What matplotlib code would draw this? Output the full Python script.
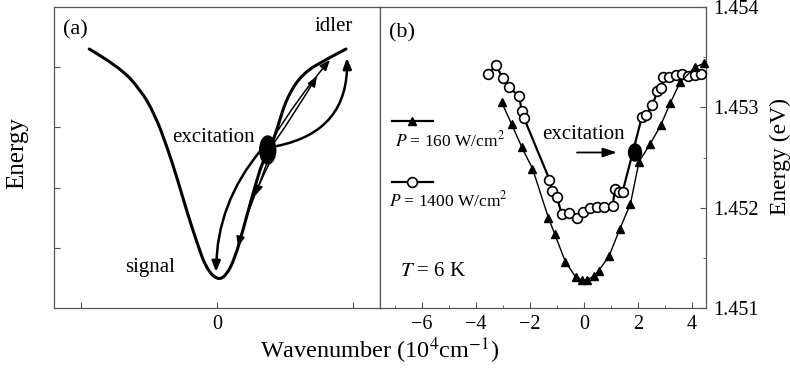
import matplotlib
matplotlib.use('Agg')
import matplotlib.pyplot as plt
from matplotlib.path import Path
from matplotlib.patches import PathPatch, Ellipse, FancyArrowPatch
from matplotlib.ticker import MultipleLocator, FormatStrFormatter

plt.rcParams['font.family'] = ['Liberation Serif', 'DejaVu Serif']
plt.rcParams['mathtext.fontset'] = 'stix'

# (a) schematic dispersion curve (arbitrary units)
curve_x = [-0.941, -0.728, -0.566, -0.456, -0.368, -0.294, -0.221, -0.147, -0.081, 0.0,
           0.066, 0.132, 0.191, 0.265, 0.338, 0.404, 0.445, 0.515, 0.632, 0.809, 0.949]
curve_y = [4.302, 4.020, 3.638, 3.206, 2.674, 2.159, 1.595, 1.080, 0.664, 0.465,
           0.532, 0.831, 1.296, 1.910, 2.458, 2.720, 3.000, 3.505, 3.904, 4.136, 4.302]
blob_xy = (0.373, 2.625)
# scattering arrows: start, end, bend, thick?
arrows_a = [
    ((0.404, 2.791), (0.831, 4.120), -0.04, False),
    ((0.419, 2.741), (0.735, 3.854), 0.02, False),
    ((0.441, 2.691), (0.956, 4.153), 0.42, True),
    ((0.324, 2.625), (-0.007, 0.598), 0.18, True),
    ((0.375, 2.458), (0.279, 1.860), 0.0, False),
    ((0.390, 2.425), (0.154, 1.013), 0.06, False),
]

# (b) measured energies
tri_x = [-3.05, -2.68, -2.30, -1.91, -1.32, -1.09, -0.69, -0.31, -0.07, 0.12, 0.37,
         0.54, 0.93, 1.33, 1.72, 2.04, 2.44, 2.84, 3.19, 3.56, 4.11, 4.44]
tri_y = [1.45305, 1.45283, 1.45260, 1.45239, 1.45190, 1.45174, 1.45146, 1.45131, 1.45128,
         1.45128, 1.45132, 1.45137, 1.45152, 1.45179, 1.45204, 1.45246, 1.45263, 1.45282,
         1.45304, 1.45325, 1.45340, 1.45344]
circ_x = [-3.54, -3.26, -3.01, -2.78, -2.40, -2.31, -2.22, -1.28, -1.19, -1.01, -0.83,
          -0.56, -0.27, -0.05, 0.22, 0.49, 0.74, 1.06, 1.15, 1.31, 1.43, 2.14, 2.28, 2.53,
          2.72, 2.84, 2.94, 3.16, 3.41, 3.62, 3.86, 4.11, 4.32]
circ_y = [1.45333, 1.45342, 1.45329, 1.45320, 1.45311, 1.45296, 1.45289, 1.45228, 1.45217,
          1.45211, 1.45194, 1.45195, 1.45190, 1.45196, 1.45200, 1.45201, 1.45201, 1.45202,
          1.45219, 1.45216, 1.45216, 1.45290, 1.45292, 1.45302, 1.45316, 1.45319, 1.45330,
          1.45330, 1.45332, 1.45333, 1.45331, 1.45332, 1.45333]
exc_x, exc_y = 1.89, 1.45255

fig = plt.figure(figsize=(7.9, 3.69), dpi=100)
ax1 = fig.add_axes([0.0684, 0.1653, 0.4127, 0.8157])
ax2 = fig.add_axes([0.4810, 0.1653, 0.4127, 0.8157])

for ax in (ax1, ax2):
    for s in ax.spines.values():
        s.set_color('#555555')
        s.set_linewidth(0.9)
    ax.tick_params(which='both', direction='in', color='#555555', labelsize=14.5, pad=5)
    ax.tick_params(which='major', length=4)
    ax.tick_params(which='minor', length=2.5)

# ---- panel (a)
ax1.set_xlim(-1.2, 1.2)
ax1.set_ylim(0, 5)
ax1.set_xticks([-1, 0, 1])
ax1.set_xticklabels(['', '0', ''])
ax1.set_yticks([1, 2, 3, 4])
ax1.set_yticklabels([])

verts = [(curve_x[0], curve_y[0])]
codes = [Path.MOVETO]
for i in range(1, len(curve_x) - 1):
    mx = (curve_x[i] + curve_x[i + 1]) / 2
    my = (curve_y[i] + curve_y[i + 1]) / 2
    verts += [(curve_x[i], curve_y[i]), (mx, my)]
    codes += [Path.CURVE3, Path.CURVE3]
verts.append((curve_x[-1], curve_y[-1]))
codes.append(Path.LINETO)
ax1.add_patch(PathPatch(Path(verts, codes), fill=False, lw=2.2, color='black',
                        capstyle='round'))

for start, end, rad, thick in arrows_a:
    ax1.add_patch(FancyArrowPatch(start, end, connectionstyle=f'arc3,rad={rad}',
                                  arrowstyle='-|>,head_length=0.45,head_width=0.18',
                                  mutation_scale=14, lw=1.8 if thick else 1.1,
                                  color='black', shrinkA=0, shrinkB=0))
ax1.add_patch(Ellipse(blob_xy, 0.118, 0.465, color='black', zorder=5))

ax1.text(0.028, 0.924, '(a)', transform=ax1.transAxes, fontsize=16, ha='left', va='center')
ax1.text(0.859, 0.934, 'idler', transform=ax1.transAxes, fontsize=15, ha='center', va='center')
ax1.text(0.488, 0.568, 'excitation', transform=ax1.transAxes, fontsize=15,
         ha='center', va='center')
ax1.text(0.294, 0.133, 'signal', transform=ax1.transAxes, fontsize=15, ha='center', va='center')

# ---- panel (b)
ax2.set_xlim(-7.56, 4.52)
ax2.set_ylim(1.451, 1.454)
ax2.xaxis.set_major_locator(MultipleLocator(2))
ax2.xaxis.set_minor_locator(MultipleLocator(1))
ax2.yaxis.set_major_locator(MultipleLocator(0.001))
ax2.yaxis.set_minor_locator(MultipleLocator(0.0005))
ax2.yaxis.set_major_formatter(FormatStrFormatter('%.3f'))
ax2.yaxis.tick_right()
ax2.tick_params(axis='y', which='both', left=False, right=True)

ax2.plot(circ_x, circ_y, '-', color='black', lw=1.6, marker='o', ms=7,
         mfc='white', mec='black', mew=1.2, clip_on=False, zorder=3)
ax2.plot(tri_x, tri_y, '-', color='black', lw=1.0, marker='^', ms=6,
         mfc='black', mec='black', clip_on=False, zorder=4)
ax2.add_patch(Ellipse((exc_x, exc_y), 0.48, 0.00017, color='black', zorder=6))

ax2.annotate('', xy=(1.22, exc_y), xytext=(-0.26, exc_y),
             arrowprops=dict(arrowstyle='-|>,head_length=0.6,head_width=0.2',
                             lw=1.3, color='black', mutation_scale=14,
                             shrinkA=0, shrinkB=0))
ax2.text(0.624, 0.575, 'excitation', transform=ax2.transAxes, fontsize=15,
         ha='center', va='center')
ax2.text(0.067, 0.914, '(b)', transform=ax2.transAxes, fontsize=16, ha='center', va='center')
ax2.text(0.163, 0.12, r'$T$ = 6 K', transform=ax2.transAxes, fontsize=15,
         ha='center', va='center')

# hand-made legend
ax2.plot([0.037, 0.163], [0.622, 0.622], '-', color='black', lw=1.6, transform=ax2.transAxes,
         clip_on=False)
ax2.plot([0.098], [0.622], '^', color='black', ms=6, transform=ax2.transAxes, clip_on=False)
ax2.text(0.215, 0.558, r'$P$ = 160 W/cm$^2$', transform=ax2.transAxes, fontsize=12.5,
         ha='center', va='center')
ax2.plot([0.037, 0.163], [0.420, 0.420], '-', color='black', lw=1.6, transform=ax2.transAxes,
         clip_on=False)
ax2.plot([0.098], [0.420], 'o', ms=7, mfc='white', mec='black', mew=1.2,
         transform=ax2.transAxes, clip_on=False)
ax2.text(0.209, 0.359, r'$P$ = 1400 W/cm$^2$', transform=ax2.transAxes, fontsize=12.5,
         ha='center', va='center')

# axis labels
fig.text(0.0215, 0.585, 'Energy', rotation=90, fontsize=18, ha='center', va='center')
fig.text(0.988, 0.577, 'Energy (eV)', rotation=90, fontsize=17, ha='center', va='center')
fig.text(0.481, 0.049, r'Wavenumber (10$^4$cm$^{-1}$)', fontsize=17.5, ha='center',
         va='center')

fig.savefig('out.png', dpi=100)
